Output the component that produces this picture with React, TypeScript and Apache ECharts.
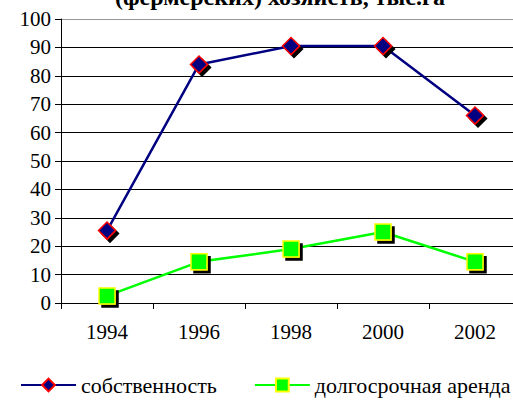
import React, { useEffect, useRef } from "react";
import * as echarts from "echarts";

const years = ["1994", "1996", "1998", "2000", "2002"];
const ownership = [25.5, 84, 90.5, 90.5, 66];
const longLease = [2.5, 14.5, 19, 25, 14.5];
const seriesNames = ["собственность", "долгосрочная аренда"];
const titleText = "(фермерских) хозяйств, тыс.га";

export default function App() {
  const ref = useRef<HTMLDivElement>(null);
  useEffect(() => {
    const chart = echarts.init(ref.current!, null, { renderer: "svg" });
    const font = "'Liberation Serif', 'Times New Roman', serif";
    const gridColors = ["#000", "#000", "#000", "#000", "#000", "#000", "#000", "#000", "#000", "#000", "#999"];
    chart.setOption({
      animation: false,
      backgroundColor: "#ffffff",
      textStyle: { fontFamily: font },
      title: {
        text: titleText,
        left: 110,
        top: -20,
        textStyle: { fontFamily: font, fontSize: 24, fontWeight: "bold", color: "#000" },
      },
      grid: { left: 61, right: 0, top: 19, bottom: 97, containLabel: false },
      xAxis: {
        type: "category",
        data: years,
        boundaryGap: true,
        axisLine: { lineStyle: { color: "#000", width: 1 } },
        axisTick: { show: true, length: 6, lineStyle: { color: "#000" }, interval: 0 },
        axisLabel: { color: "#000", fontSize: 21, fontFamily: font, margin: 18 },
      },
      yAxis: {
        type: "value",
        min: 0,
        max: 100,
        interval: 10,
        axisLine: { show: true, lineStyle: { color: "#000", width: 1 } },
        axisTick: { show: true, length: 6, inside: false, lineStyle: { color: "#000" } },
        axisLabel: { color: "#000", fontSize: 21, fontFamily: font, margin: 10 },
        splitLine: { show: true, lineStyle: { color: gridColors, width: 1 } },
      },
      legend: {
        left: 15,
        top: 369,
        width: 900,
        itemWidth: 55,
        itemHeight: 16,
        itemGap: 37,
        textStyle: { fontFamily: font, fontSize: 22, color: "#000" },
        data: seriesNames,
      },
      series: [
        {
          name: seriesNames[0],
          type: "line",
          data: ownership,
          symbol: "diamond",
          symbolSize: 17,
          lineStyle: { color: "#000080", width: 2.5 },
          itemStyle: {
            color: "#000080",
            borderColor: "#ff0000",
            borderWidth: 1.5,
            shadowColor: "#000",
            shadowBlur: 0,
            shadowOffsetX: 3,
            shadowOffsetY: 3,
          },
        },
        {
          name: seriesNames[1],
          type: "line",
          data: longLease,
          symbol: "rect",
          symbolSize: 16,
          lineStyle: { color: "#00ff00", width: 2.5 },
          itemStyle: {
            color: "#00ff00",
            borderColor: "#ffff00",
            borderWidth: 1.5,
            shadowColor: "#000",
            shadowBlur: 0,
            shadowOffsetX: 3,
            shadowOffsetY: 3,
          },
        },
      ],
    });
    return () => chart.dispose();
  }, []);
  return (
    <div style={{ width: 513, height: 400, position: "absolute", left: 0, top: 0, overflow: "hidden" }}>
      <div ref={ref} style={{ width: 521, height: 400 }} />
    </div>
  );
}
